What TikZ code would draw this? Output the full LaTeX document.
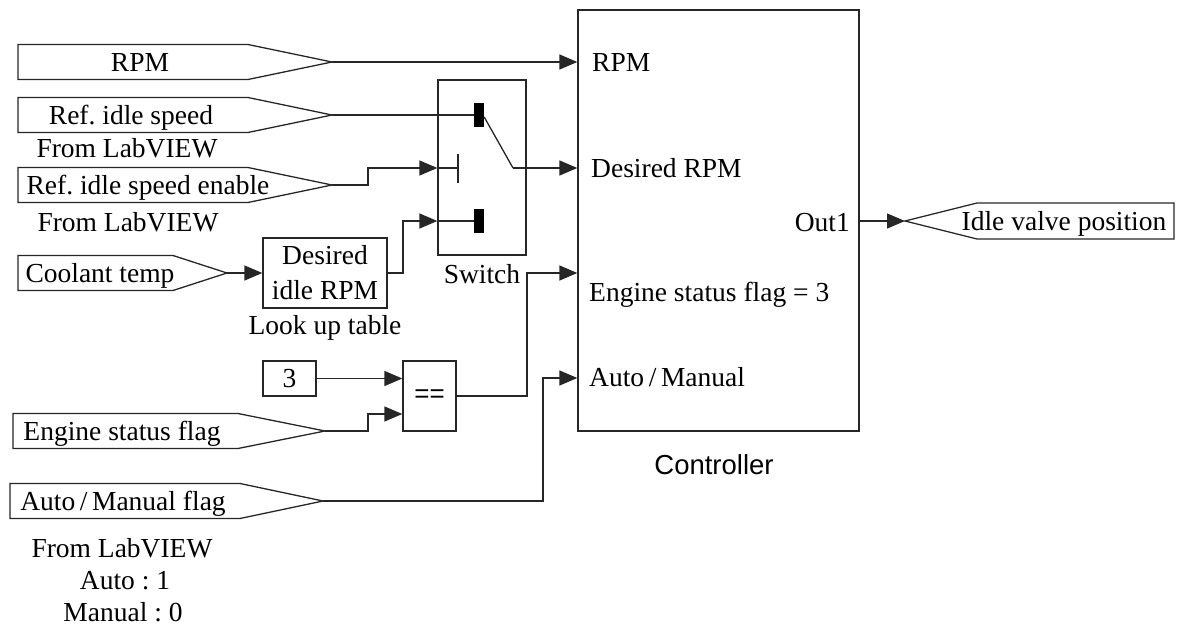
\documentclass[tikz,border=0pt]{standalone}
\usepackage{fontspec}
\setmainfont{Liberation Serif}
\setsansfont{Liberation Sans}
\usetikzlibrary{arrows.meta}
\frenchspacing
\newcommand\sigtag[7]{% name, left x, slope start x, tip x, center y, text, text center x
  \draw[wire] (#2,#5-17.5) -- (#3,#5-17.5) -- (#4,#5) coordinate (#1) -- (#3,#5+17.5) -- (#2,#5+17.5) -- cycle;
  \node[lbl] (#1t) at (#7,#5) {#6};
}
\begin{document}
\begin{tikzpicture}[x=1pt,y=-1pt,
  wire/.style={line width=1.3pt, draw=black!85, line join=miter},
  arr/.style={wire, -{Triangle[length=18pt 0, width=15pt 0]}},
  lbl/.style={font=\fontsize{27.5}{32}\selectfont, inner sep=0pt, text height=18pt, text depth=0pt},
  box/.style={draw=black!85, line width=1.3pt, inner sep=2pt, font=\fontsize{27.5}{35}\selectfont},
  contact/.style={fill=black, draw=none, minimum width=10pt, minimum height=24pt, inner sep=0pt}]
\useasboundingbox (0,0) rectangle (1180,626);
% input tags
\sigtag{rpm}{18}{248}{332}{62}{RPM}{140}
\sigtag{ref}{18}{248}{332}{115}{Ref. idle speed}{131}
\sigtag{en}{18}{248}{332}{185}{Ref. idle speed enable}{148}
\sigtag{cool}{18}{173}{227}{273}{Coolant temp}{100}
\sigtag{es}{13}{238}{325}{431}{Engine status flag}{122}
\sigtag{am}{10}{240}{323}{501}{Auto\,/\,Manual flag}{123}
% output tag
\draw[wire] (1174,203) -- (977,203) -- (905,221) coordinate (iv) -- (977,239) -- (1174,239) -- cycle;
\node[lbl] (ivt) at (1064,221) {Idle valve position};
% annotations
\node[lbl] (fl1) at (127,148) {From LabVIEW};
\node[lbl] (fl2) at (128,222) {From LabVIEW};
\node[lbl] (fl3) at (122,548) {From LabVIEW};
\node[lbl] (a1) at (125,580) {Auto : 1};
\node[lbl] (m0) at (123,612) {Manual : 0};
% lookup table
\node[box, minimum width=124pt, minimum height=70pt, align=center] (lut) at (325,273) {Desired\\idle RPM};
\node[lbl] (lutl) at (325,325) {Look up table};
% switch
\node[box, minimum width=88pt, minimum height=175pt] (sw) at (482,167.5) {};
\node[lbl] (swl) at (482,274) {Switch};
\node[contact] (c1) at (479,115) {};
\node[contact] (c3) at (479,221) {};
\coordinate (tick) at (458,168);
\coordinate (lev) at (513,168);
% constant and compare
\node[box, minimum width=53pt, minimum height=35pt] (k3) at (289.5,378.5) {3};
\node[box, minimum width=53pt, minimum height=70pt, font=\sffamily\fontsize{26}{28}\selectfont] (eq) at (429.5,396) {==};
% controller
\node[box, minimum width=281pt, minimum height=421pt] (ctl) at (718.5,220.5) {};
\node[lbl, font=\sffamily\fontsize{27.5}{30}\selectfont] (ctll) at (714,465) {Controller};
\node[lbl, anchor=west] (i1) at (592,62) {RPM};
\node[lbl, anchor=west] (i2) at (591,168) {Desired RPM};
\node[lbl, anchor=west] (i3) at (589,292) {Engine status flag = 3};
\node[lbl, anchor=west] (i4) at (589,377) {Auto\,/\,Manual};
\node[lbl, anchor=east] (o1) at (850,222) {Out1};
% connections
\draw[arr] (rpm) -- (ctl.west |- rpm);
\draw[wire] (ref) -- (c1.west);
\draw[arr] (en) -- (368,185) |- (sw.west |- tick);
\draw[wire] (sw.west |- tick) -- (tick);
\draw[wire] (458,154) -- (458,183);
\draw[arr] (lut.east) -- (403,273) |- (sw.west |- c3);
\draw[wire] (sw.west |- c3) -- (c3.west);
\draw[wire] (c1.east) ++(0,2) -- (lev);
\draw[arr] (lev) -- (ctl.west |- lev);
\draw[arr] (cool) -- (lut.west);
\draw[arr] (k3.east) -- (eq.west |- k3.east);
\draw[arr] (es) -- (368,431) |- ([yshift=-18pt]eq.west);
\draw[arr] (eq.east) -- (527,396) -- (527,273) -- (ctl.west |- 0,273);
\draw[arr] (am) -- (543,501) -- (543,378) -- (ctl.west |- 0,378);
\draw[arr] (ctl.east |- iv) -- (iv);
\end{tikzpicture}
\end{document}
